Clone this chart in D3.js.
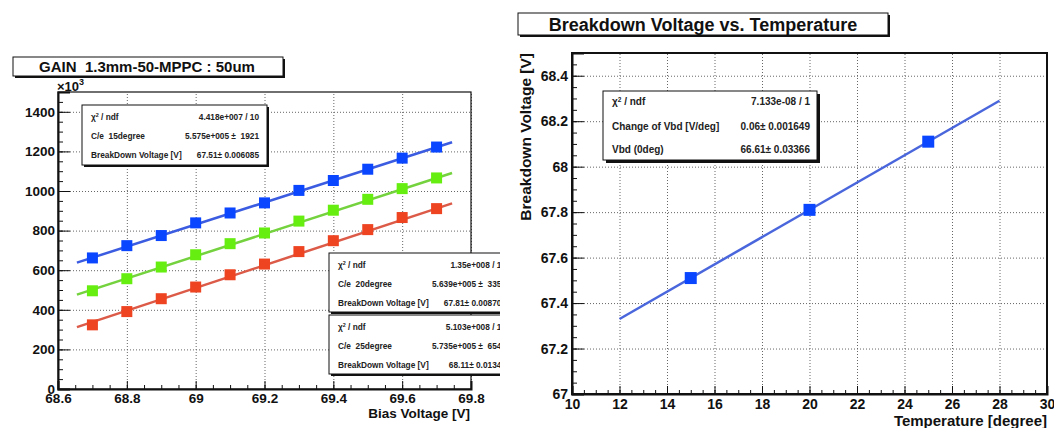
<!DOCTYPE html>
<html>
<head>
<meta charset="utf-8">
<script src="https://cdn.jsdelivr.net/npm/d3@7"></script>
<style>
  body { margin: 0; background: #fff; }
  svg { display: block; font-family: "Liberation Sans", Arial, sans-serif; }
  .tick text { font-weight: bold; fill: #111; }
  .grid line { stroke: #666; stroke-dasharray: 1,2; }
  .grid path, .minor path { display: none; }
</style>
</head>
<body>
<div id="chart"></div>
<script>
// ---- gain vs bias voltage (values in units of 10^3) ----
var biasVoltage = [68.7, 68.8, 68.9, 69.0, 69.1, 69.2, 69.3, 69.4, 69.5, 69.6, 69.7];
var gain15 = [662, 724, 775, 839, 889, 940, 1003, 1053, 1110, 1166, 1222];
var gain20 = [496, 557, 616, 678, 734, 788, 848, 903, 958, 1012, 1066];
var gain25 = [324, 391, 456, 515, 577, 631, 694, 749, 805, 866, 911];

// fit results from the stat boxes: gain = C * (V - Vbd)
var fitC = [557.5, 563.9, 573.5];
var fitVbd = [67.51, 67.81, 68.11];
var fitRange = [68.655, 69.745];

var statChi = ["4.418e+007 / 10", "1.35e+008 / 10", "5.103e+008 / 10"];
var statName = ["C/e  15degree", "C/e  20degree", "C/e  25degree"];
var statC = ["5.575e+005 \u00b1  1921", "5.639e+005 \u00b1  3358", "5.735e+005 \u00b1  6542"];
var statVbd = ["67.51\u00b1 0.006085", "67.81\u00b1 0.008702", "68.11\u00b1 0.01342"];

// ---- breakdown voltage vs temperature ----
var temperature = [15, 20, 25];
var breakdownV = [67.51, 67.81, 68.11];
var vbdSlope = 0.06, vbdAt0 = 66.61;
var vbdFitRange = [12, 28];
var vbdStatLabels = ["Change of Vbd [V/deg]", "Vbd (0deg)"];
var vbdStatValues = ["7.133e-08 / 1", "0.06\u00b1 0.001649", "66.61\u00b1 0.03366"];

var width = 1054, height = 428;

var svg = d3.select("#chart").append("svg")
    .attr("width", width)
    .attr("height", height);

svg.append("clipPath").attr("id", "leftclip")
  .append("rect").attr("x", 0).attr("y", 0).attr("width", 500).attr("height", height);

/*------------------------------------------------------------------
 * helpers
 *------------------------------------------------------------------*/
function shadowBox(g, x, y, w, h, off) {
  g.append("rect").attr("x", x + off).attr("y", y + off)
      .attr("width", w).attr("height", h).attr("fill", "#111");
  g.append("rect").attr("x", x).attr("y", y)
      .attr("width", w).attr("height", h)
      .attr("fill", "#fff").attr("stroke", "#111").attr("stroke-width", 1);
}

function chiLabel(t, x, y, size) {
  var el = t.append("text").attr("x", x).attr("y", y)
      .attr("font-size", size).attr("font-weight", "bold").attr("fill", "#222");
  el.append("tspan").text("\u03c7");
  el.append("tspan").attr("font-size", size * 0.65).attr("dy", -size * 0.35).text("2");
  el.append("tspan").attr("dy", size * 0.35).text(" / ndf");
}

function range(a, b, step) {
  var out = [], n = Math.round((b - a) / step);
  for (var i = 0; i <= n; i++) out.push(+(a + i * step).toFixed(4));
  return out;
}

function drawAxes(g, x, y, o) {
  var x0 = x.range()[0], x1 = x.range()[1], y0 = y.range()[0], y1 = y.range()[1];

  // dotted grid
  g.append("g").attr("class", "grid")
      .attr("transform", "translate(0," + y0 + ")")
      .call(d3.axisBottom(x).tickValues(o.xMajor).tickSize(-(y0 - y1)).tickFormat(""));
  g.append("g").attr("class", "grid")
      .attr("transform", "translate(" + x0 + ",0)")
      .call(d3.axisLeft(y).tickValues(o.yMajor).tickSize(-(x1 - x0)).tickFormat(""));

  // frame
  g.append("rect").attr("x", x0).attr("y", y1)
      .attr("width", x1 - x0).attr("height", y0 - y1)
      .attr("fill", "none").attr("stroke", "#111").attr("stroke-width", o.frame);

  // minor ticks, inside
  g.append("g").attr("class", "minor")
      .attr("transform", "translate(0," + y0 + ")")
      .call(d3.axisBottom(x).tickValues(o.xMinor).tickSize(-4).tickFormat(""));
  g.append("g").attr("class", "minor")
      .attr("transform", "translate(" + x0 + ",0)")
      .call(d3.axisLeft(y).tickValues(o.yMinor).tickSize(-5).tickFormat(""));

  // major ticks + labels
  var xa = g.append("g")
      .attr("transform", "translate(0," + y0 + ")")
      .call(d3.axisBottom(x).tickValues(o.xMajor).tickSize(-8).tickPadding(o.xPad).tickFormat(o.xFmt));
  var ya = g.append("g")
      .attr("transform", "translate(" + x0 + ",0)")
      .call(d3.axisLeft(y).tickValues(o.yMajor).tickSize(-12).tickPadding(o.yPad).tickFormat(o.yFmt));
  xa.selectAll("text").attr("font-size", o.font);
  ya.selectAll("text").attr("font-size", o.font);
  g.selectAll(".tick line").attr("stroke", "#111");
  xa.select(".domain").attr("stroke", "#111").attr("stroke-width", 2);
  ya.select(".domain").attr("stroke", "#111").attr("stroke-width", 2);
}

/*------------------------------------------------------------------
 * left: GAIN vs bias voltage
 *------------------------------------------------------------------*/
var left = svg.append("g").attr("clip-path", "url(#leftclip)");

var xL = d3.scaleLinear().domain([68.6, 69.8]).range([58, 471]);
var yL = d3.scaleLinear().domain([0, 1500]).range([389, 92]);

drawAxes(left, xL, yL, {
  xMajor: range(68.6, 69.8, 0.2), xMinor: range(68.6, 69.8, 0.05),
  yMajor: range(0, 1400, 200), yMinor: range(0, 1500, 50),
  xFmt: function (d) { return d3.format("")(d); }, yFmt: d3.format("d"),
  xPad: 4, yPad: 3, font: 13.5, frame: 1.2
});

left.append("text").attr("x", 57).attr("y", 91)
    .attr("font-size", 13).attr("font-weight", "bold").attr("fill", "#111")
    .text("\u00d710")
  .append("tspan").attr("dy", -6).attr("font-size", 9).text("3");

left.append("text").attr("x", 470).attr("y", 418)
    .attr("text-anchor", "end").attr("font-size", 13.5).attr("font-weight", "bold").attr("fill", "#111")
    .text("Bias Voltage [V]");

var series = [
  {values: gain15, line: "#3b5ce0", mark: "#0a46ff"},
  {values: gain20, line: "#74d23e", mark: "#66ee10"},
  {values: gain25, line: "#dc5a48", mark: "#ee4422"}
];

series.forEach(function (s, i) {
  left.append("line")
      .attr("x1", xL(fitRange[0])).attr("y1", yL(fitC[i] * (fitRange[0] - fitVbd[i])))
      .attr("x2", xL(fitRange[1])).attr("y2", yL(fitC[i] * (fitRange[1] - fitVbd[i])))
      .attr("stroke", s.line).attr("stroke-width", 2.5);

  left.selectAll(null).data(s.values).enter().append("rect")
      .attr("x", function (d, j) { return xL(biasVoltage[j]) - 5.5; })
      .attr("y", function (d) { return yL(d) - 5.5; })
      .attr("width", 11).attr("height", 11)
      .attr("fill", s.mark);
});

// stat boxes
var boxes = [{x: 82, y: 105, w: 185}, {x: 329, y: 253, w: 186}, {x: 329, y: 315, w: 186}];
boxes.forEach(function (b, i) {
  shadowBox(left, b.x, b.y, b.w, b.y === 105 ? 60 : 59, 2);
  var fs = 8.3;
  chiLabel(left, b.x + 9, b.y + 15, fs);
  left.append("text").attr("x", b.x + 9).attr("y", b.y + 34)
      .attr("font-size", fs).attr("font-weight", "bold").attr("fill", "#222")
      .style("white-space", "pre").text(statName[i]);
  left.append("text").attr("x", b.x + 9).attr("y", b.y + 53)
      .attr("font-size", fs).attr("font-weight", "bold").attr("fill", "#222")
      .text("BreakDown Voltage [V]");
  [statChi[i], statC[i], statVbd[i]].forEach(function (v, k) {
    left.append("text").attr("x", b.x + 177).attr("y", b.y + 15 + k * 19)
        .attr("text-anchor", "end").attr("font-size", fs).attr("font-weight", "bold")
        .attr("fill", "#222").style("white-space", "pre").text(v);
  });
});

// title
shadowBox(left, 13, 57, 270, 19, 2);
left.append("text").attr("x", 147).attr("y", 72)
    .attr("text-anchor", "middle").attr("font-size", 15).attr("font-weight", "bold")
    .attr("fill", "#111").style("white-space", "pre")
    .text("GAIN  1.3mm-50-MPPC : 50um");

/*------------------------------------------------------------------
 * right: breakdown voltage vs temperature
 *------------------------------------------------------------------*/
var right = svg.append("g");

var xR = d3.scaleLinear().domain([10, 30]).range([572, 1047]);
var yR = d3.scaleLinear().domain([67, 68.5]).range([394, 53]);

drawAxes(right, xR, yR, {
  xMajor: range(10, 30, 2), xMinor: range(10, 30, 0.5),
  yMajor: range(67, 68.4, 0.2), yMinor: range(67, 68.5, 0.05),
  xFmt: d3.format("d"), yFmt: function (d) { return d3.format("")(d); },
  xPad: 5, yPad: 4, font: 14, frame: 2
});

right.append("line")
    .attr("x1", xR(vbdFitRange[0])).attr("y1", yR(vbdAt0 + vbdSlope * vbdFitRange[0]))
    .attr("x2", xR(vbdFitRange[1])).attr("y2", yR(vbdAt0 + vbdSlope * vbdFitRange[1]))
    .attr("stroke", "#4a66dc").attr("stroke-width", 2.5);

right.selectAll(null).data(breakdownV).enter().append("rect")
    .attr("x", function (d, i) { return xR(temperature[i]) - 6; })
    .attr("y", function (d) { return yR(d) - 6; })
    .attr("width", 12).attr("height", 12)
    .attr("fill", "#0a46ff");

right.append("text")
    .attr("transform", "translate(531,53)rotate(-90)")
    .attr("text-anchor", "end").attr("font-size", 15.5).attr("font-weight", "bold").attr("fill", "#111")
    .text("Breakdown Voltage [V]");

right.append("text").attr("x", 1047).attr("y", 426)
    .attr("text-anchor", "end").attr("font-size", 15).attr("font-weight", "bold").attr("fill", "#111")
    .text("Temperature [degree]");

shadowBox(right, 603, 91, 214, 69, 3);
chiLabel(right, 612, 105, 10);
vbdStatLabels.forEach(function (t, k) {
  right.append("text").attr("x", 612).attr("y", 130 + k * 23)
      .attr("font-size", 10).attr("font-weight", "bold").attr("fill", "#222").text(t);
});
vbdStatValues.forEach(function (t, k) {
  right.append("text").attr("x", 810).attr("y", k === 0 ? 105 : 130 + (k - 1) * 23)
      .attr("text-anchor", "end").attr("font-size", 10).attr("font-weight", "bold")
      .attr("fill", "#222").text(t);
});

shadowBox(right, 518, 13, 370, 22, 2);
right.append("text").attr("x", 703).attr("y", 31)
    .attr("text-anchor", "middle").attr("font-size", 18).attr("font-weight", "bold").attr("fill", "#111")
    .text("Breakdown Voltage vs. Temperature");
</script>
</body>
</html>
